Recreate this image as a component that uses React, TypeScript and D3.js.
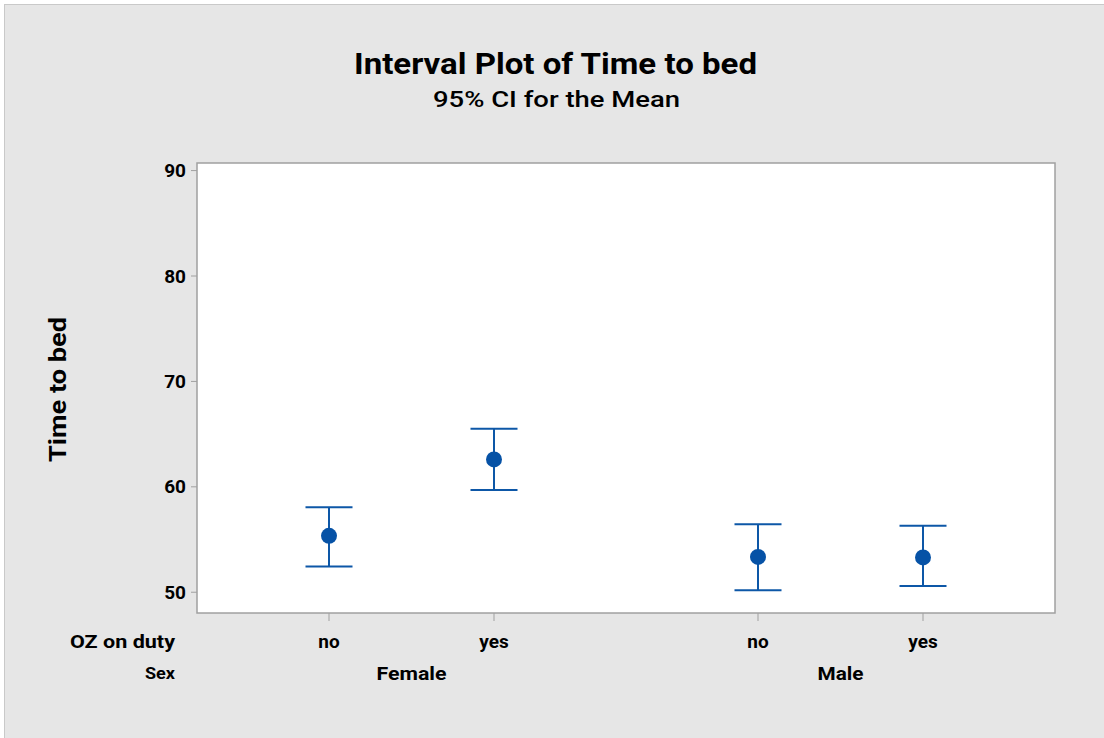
import React from "react";
import * as d3 from "d3";

const groups = ["Female", "Male"];
const subLevels = ["no", "yes"];
const means = [55.35, 62.6, 53.35, 53.3];
const upper = [58.07, 65.5, 56.45, 56.3];
const lower = [52.45, 59.7, 50.2, 50.6];
const yTicks = [50, 60, 70, 80, 90];

const W = 1104;
const H = 738;
const plot = { left: 197, right: 1055, top: 163, bottom: 613 };
const GAP = 2.6;
const FONT = "Roboto, 'Noto Sans', sans-serif";

export default function App() {
  const y = d3.scaleLinear().domain([48.03, 90.72]).range([plot.bottom, plot.top]);
  const x = d3.scaleLinear().domain([-0.8, 1 + GAP + 0.8]).range([plot.left, plot.right]);
  const points = means.map((m, i) => {
    const g = Math.floor(i / 2);
    const s = i % 2;
    return { pos: g * GAP + s, m, hi: upper[i], lo: lower[i], label: subLevels[s] };
  });
  const blue = "#0d57a7";
  const cap = 23.5;
  const groupWidths = [70, 46];
  return (
    <svg width={W} height={H} style={{ position: "absolute", left: 0, top: 0 }} fontFamily={FONT}>
      <rect x={0} y={0} width={W} height={H} fill="#ffffff" />
      <rect x={4.5} y={4.5} width={W - 4} height={H - 4} fill="#e6e6e6" stroke="#c9c9c9" strokeWidth={1} />
      <text x={555.5} y={74} textAnchor="middle" fontSize={30} fontWeight="bold" fill="#000" textLength={403} lengthAdjust="spacingAndGlyphs">
        Interval Plot of Time to bed
      </text>
      <text x={556.5} y={107} textAnchor="middle" fontSize={22.5} fontWeight="500" fill="#000" textLength={247} lengthAdjust="spacingAndGlyphs">
        95% CI for the Mean
      </text>
      <rect
        x={plot.left}
        y={plot.top}
        width={plot.right - plot.left}
        height={plot.bottom - plot.top}
        fill="#ffffff"
        stroke="#a0a0a0"
        strokeWidth={1.5}
      />
      {yTicks.map((t) => (
        <g key={t}>
          <line x1={plot.left - 6} x2={plot.left} y1={y(t)} y2={y(t)} stroke="#a0a0a0" strokeWidth={1} />
          <text x={186} y={y(t)} dy="0.35em" textAnchor="end" fontSize={19} fontWeight="bold" fill="#000">
            {t}
          </text>
        </g>
      ))}
      <text
        transform={`translate(66,${389.5}) rotate(-90)`}
        textAnchor="middle"
        fontSize={23}
        fontWeight="bold"
        fill="#000"
        textLength={145}
        lengthAdjust="spacingAndGlyphs"
      >
        Time to bed
      </text>
      {points.map((p, i) => (
        <g key={i}>
          <line x1={x(p.pos)} x2={x(p.pos)} y1={plot.bottom} y2={plot.bottom + 8} stroke="#a0a0a0" strokeWidth={1} />
          <text x={x(p.pos)} y={641} dy="0.35em" textAnchor="middle" fontSize={19} fontWeight="bold" fill="#000">
            {p.label}
          </text>
          <line x1={x(p.pos)} x2={x(p.pos)} y1={y(p.hi)} y2={y(p.lo)} stroke={blue} strokeWidth={2} />
          <line x1={x(p.pos) - cap} x2={x(p.pos) + cap} y1={y(p.hi)} y2={y(p.hi)} stroke={blue} strokeWidth={2} />
          <line x1={x(p.pos) - cap} x2={x(p.pos) + cap} y1={y(p.lo)} y2={y(p.lo)} stroke={blue} strokeWidth={2} />
          <circle cx={x(p.pos)} cy={y(p.m)} r={8} fill="#0652a6" />
        </g>
      ))}
      {groups.map((g, gi) => (
        <text
          key={g}
          x={x(gi * GAP + 0.5)}
          y={673}
          dy="0.35em"
          textAnchor="middle"
          fontSize={19}
          fontWeight="bold"
          fill="#000"
          textLength={groupWidths[gi]}
          lengthAdjust="spacingAndGlyphs"
        >
          {g}
        </text>
      ))}
      <text x={175} y={641} dy="0.35em" textAnchor="end" fontSize={19} fontWeight="bold" fill="#000" textLength={105} lengthAdjust="spacingAndGlyphs">
        OZ on duty
      </text>
      <text x={175} y={673} dy="0.35em" textAnchor="end" fontSize={16} fontWeight="bold" fill="#000" textLength={30} lengthAdjust="spacingAndGlyphs">
        Sex
      </text>
    </svg>
  );
}
